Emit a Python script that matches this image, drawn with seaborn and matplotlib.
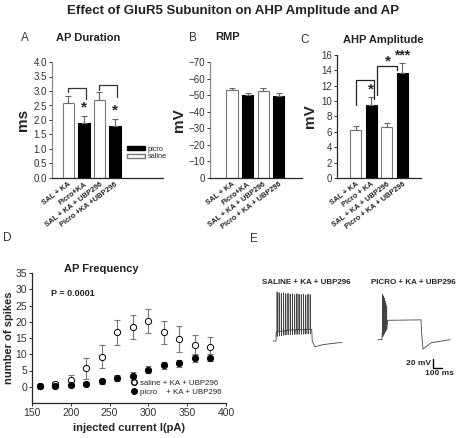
import numpy as np
import matplotlib
matplotlib.use("Agg")
import matplotlib.pyplot as plt
import seaborn as sns
from matplotlib.patches import Patch
from matplotlib.lines import Line2D

# ===========================================
# Data
# ===========================================
groups = ["saline", "picro", "saline", "picro"]

labels_a = ["SAL + KA", "Picro+KA", "SAL + KA + UBP296", "Picro +KA +UBP296"]
ap_duration = [2.6, 1.9, 2.7, 1.8]
ap_duration_err = [0.23, 0.25, 0.25, 0.25]

labels_b = ["SAL + KA", "Picro+KA", "SAL + KA + UBP296", "Picro + KA + UBP296"]
rmp = [-53.0, -50.2, -52.8, -49.7]
rmp_err = [1.6, 1.2, 1.8, 1.3]

labels_c = ["SAL + KA", "Picro + KA", "SAL + KA + UBP296", "Picro + KA + UBP296"]
ahp_amp = [6.2, 9.5, 6.6, 13.6]
ahp_amp_err = [0.6, 1.1, 0.6, 1.3]

currents = [160, 180, 200, 220, 240, 260, 280, 300, 320, 340, 360, 380]
spikes_saline = [0.3, 1.0, 2.0, 5.7, 9.3, 16.8, 18.5, 20.2, 16.8, 14.6, 13.0, 12.3]
spikes_saline_err = [0.3, 0.5, 1.5, 3.3, 3.6, 3.8, 3.7, 3.8, 3.5, 4.0, 3.0, 3.1]
spikes_picro = [0.2, 0.1, 0.4, 1.0, 1.7, 2.8, 3.3, 5.3, 6.6, 7.2, 8.7, 8.9]
spikes_picro_err = [0.4, 0.4, 0.5, 0.5, 0.7, 0.9, 1.2, 1.1, 1.1, 1.1, 1.2, 1.1]

# voltage traces (ms, mV): envelope anchors plus spike times / peaks
saline_env_t = [144, 178, 180, 300, 575, 580, 611, 700, 911]
saline_env_v = [-60, -60, -40, -36, -34, -60, -73, -68, -63]
saline_spike_t = [190, 213, 237, 262, 286, 311, 336, 360, 385, 410, 434, 459, 484, 508, 533, 558]
saline_spike_v = [49, 47, 46, 47, 45, 46, 44, 45, 43, 45, 44, 43, 44, 42, 44, 43]

picro_env_t = [1311, 1355, 1357, 1410, 1420, 1789, 1795, 1811, 1900, 2111]
picro_env_v = [-57, -57, -42, -22, -14, -13, -40, -78, -64, -57]
picro_spike_t = [1362, 1371, 1380, 1389, 1398, 1407]
picro_spike_v = [44, 40, 35, 29, 23, 16]

# ===========================================
# Figure setup
# ===========================================
sns.set_style("ticks")
plt.rcParams["font.family"] = ["Liberation Sans", "DejaVu Sans"]
plt.rcParams["axes.linewidth"] = 0.9

W, H = 461, 438
fig = plt.figure(figsize=(W / 100, H / 100), dpi=100)


def px_axes(left, top, right, bottom):
    return fig.add_axes([left / W, 1 - bottom / H, (right - left) / W, (bottom - top) / H])


def bar_panel(ax, labels, vals, errs, edge="#777777"):
    sns.barplot(x=labels, y=vals, hue=groups, palette={"saline": "white", "picro": "black"},
                dodge=False, width=0.72, legend=False, ax=ax, zorder=2)
    for p in ax.patches:
        fc = p.get_facecolor()
        p.set_edgecolor("black" if fc[0] < 0.5 else edge)
        p.set_linewidth(0.8)
    lower = [e if v < 0 else 0 for v, e in zip(vals, errs)]
    upper = [0 if v < 0 else e for v, e in zip(vals, errs)]
    ax.errorbar(range(4), vals, yerr=[lower, upper], fmt="none", ecolor="#666666",
                elinewidth=0.8, capsize=2.5, capthick=0.8, zorder=3)
    ax.set_xticks(range(4))
    ax.set_xticklabels(labels, rotation=37, ha="right", rotation_mode="anchor",
                       fontsize=5.3, fontweight="bold", color="#222222")
    ax.tick_params(axis="x", length=0, pad=2)
    ax.tick_params(axis="y", labelsize=7, length=2.5, width=0.7, colors="#333333", pad=1)
    ax.set_xlabel("")
    sns.despine(ax=ax)


def bracket(ax, x0, x1, y_top, y0, y1, color="#333333"):
    ax.plot([x0, x0, x1, x1], [y0, y_top, y_top, y1], color=color, lw=0.9, zorder=4)


# ---- Panel A: AP duration ----
ax_a = px_axes(52, 62, 163, 178)
bar_panel(ax_a, labels_a, ap_duration, ap_duration_err)
ax_a.set_xlim(-1.06, 6.1)
ax_a.set_ylim(0, 4.0)
ax_a.set_yticks(np.arange(0, 4.01, 0.5))
ax_a.set_yticklabels([f"{v:.1f}" for v in np.arange(0, 4.01, 0.5)])
ax_a.spines["left"].set_color("#888888")
ax_a.set_ylabel("ms", fontsize=11, fontweight="bold", labelpad=3)
bracket(ax_a, 0, 1.15, 3.1, 2.95, 2.74)
bracket(ax_a, 1.95, 3.15, 3.2, 3.05, 2.8)
ax_a.text(1, 2.2, "*", ha="center", va="bottom", fontsize=11, fontweight="bold")
ax_a.text(3, 2.1, "*", ha="center", va="bottom", fontsize=11, fontweight="bold")
ax_a.legend(handles=[Patch(facecolor="black", edgecolor="black", label="picro"),
                     Patch(facecolor="white", edgecolor="#777777", label="saline")],
            loc="upper left", bbox_to_anchor=(4.6 / 7.16, 0.31), frameon=False,
            fontsize=5.3, handlelength=2.4, handleheight=0.6, handletextpad=0.4,
            labelspacing=0.1, borderpad=0)

# ---- Panel B: RMP ----
ax_b = px_axes(210, 62, 302, 178)
bar_panel(ax_b, labels_b, rmp, rmp_err)
ax_b.set_xlim(-1.42, 4.5)
ax_b.set_ylim(0, -70)
ax_b.set_yticks(np.arange(0, -71, -10))
ax_b.set_yticklabels(["0"] + [f"\u2212{abs(v)}" for v in range(10, 71, 10)])
ax_b.spines["left"].set_color("#888888")
ax_b.set_ylabel("mV", fontsize=11, fontweight="bold", labelpad=2)

# ---- Panel C: AHP amplitude ----
ax_c = px_axes(337, 55, 421, 178)
bar_panel(ax_c, labels_c, ahp_amp, ahp_amp_err)
ax_c.set_xlim(-1.2, 4.2)
ax_c.set_ylim(0, 16)
ax_c.set_yticks(range(0, 17, 2))
ax_c.set_ylabel("mV", fontsize=11, fontweight="bold", labelpad=3)
bracket(ax_c, 0, 1.2, 12.8, 9.5, 10.3, color="#222222")
bracket(ax_c, 1.35, 2.65, 14.6, 10.8, 14.1, color="#222222")
ax_c.text(1, 10.6, "*", ha="center", va="bottom", fontsize=11, fontweight="bold")
ax_c.text(2.05, 14.3, "*", ha="center", va="bottom", fontsize=11, fontweight="bold")
ax_c.text(3.0, 15.0, "***", ha="center", va="bottom", fontsize=10, fontweight="bold")

# ---- Panel D: AP frequency ----
ax_d = px_axes(32, 273, 226, 403)
ax_d.errorbar(currents, spikes_saline, yerr=spikes_saline_err, fmt="none",
              ecolor="#777777", elinewidth=0.8, capsize=2, capthick=0.8, zorder=2)
ax_d.errorbar(currents, spikes_picro, yerr=spikes_picro_err, fmt="none",
              ecolor="#777777", elinewidth=0.8, capsize=2, capthick=0.8, zorder=2)
sns.scatterplot(x=currents, y=spikes_saline, ax=ax_d, color="white", edgecolor="black",
                s=20, linewidth=0.7, zorder=3)
sns.scatterplot(x=currents, y=spikes_picro, ax=ax_d, color="black", edgecolor="black",
                s=20, linewidth=0.7, zorder=3)
ax_d.set_xlim(150, 400)
ax_d.set_ylim(-5, 35)
ax_d.set_xticks(range(150, 401, 50))
ax_d.set_yticks(range(0, 36, 5))
ax_d.tick_params(labelsize=7.5, length=2.5, width=0.7, colors="#333333", pad=1)
ax_d.set_xlabel("injected current I(pA)", fontsize=8, fontweight="bold", labelpad=4)
ax_d.set_ylabel("number of spikes", fontsize=8, fontweight="bold", labelpad=1)
sns.despine(ax=ax_d)
ax_d.legend(handles=[Line2D([], [], marker="o", ls="none", mfc="white", mec="black", ms=4,
                            label="saline + KA + UBP296"),
                     Line2D([], [], marker="o", ls="none", mfc="black", mec="black", ms=4,
                            label="picro    + KA + UBP296")],
            loc="lower right", bbox_to_anchor=(1.0, 0.02), frameon=False, fontsize=5.7,
            handlelength=0.8, handletextpad=0.3, labelspacing=0.15, borderpad=0.1)
ax_d.text(0.1, 0.84, "P = 0.0001", transform=ax_d.transAxes, fontsize=6.5,
          fontweight="bold", va="center")

# ---- Panel E: voltage traces ----
ax_e = px_axes(260, 285, 458, 380)
ax_e.axis("off")
ms_per_px = 100 / 9
mv_per_px = 20 / 9
ax_e.set_xlim(0, 198 * ms_per_px)
ax_e.set_ylim(-60 - 39 * mv_per_px, -60 + 56 * mv_per_px)


def build_trace(env_t, env_v, spike_t, spike_v):
    pts_t = list(env_t)
    pts_v = list(env_v)
    for ts, pk in zip(spike_t, spike_v):
        base = np.interp(ts, env_t, env_v)
        pts_t += [ts - 1.0, ts, ts + 2.0, ts + 3.5]
        pts_v += [base, pk, base - 10, base]
    order = np.argsort(pts_t)
    return np.array(pts_t)[order], np.array(pts_v)[order]


for env_t, env_v, sp_t, sp_v in [(saline_env_t, saline_env_v, saline_spike_t, saline_spike_v),
                                 (picro_env_t, picro_env_v, picro_spike_t, picro_spike_v)]:
    tt, vv = build_trace(env_t, env_v, sp_t, sp_v)
    ax_e.plot(tt, vv, color="#444444", lw=0.6)

# scale bar 20 mV / 100 ms
sb_t, sb_v = 1921, -120
ax_e.plot([sb_t, sb_t, sb_t + 100], [sb_v + 20, sb_v, sb_v], color="black", lw=1.0)
ax_e.text(sb_t - 25, sb_v + 10, "20 mV", ha="right", va="center", fontsize=6, fontweight="bold")
ax_e.text(sb_t + 70, sb_v - 13, "100 ms", ha="center", va="center", fontsize=6, fontweight="bold")

# ===========================================
# Titles and panel letters
# ===========================================
fig.text(233 / W, 1 - 11 / H, "Effect of GluR5 Subuniton on AHP Amplitude and AP",
         ha="center", va="center", fontsize=9.5, fontweight="bold", color="#222222")
for letter, x, y in [("A", 25, 38), ("B", 193, 38), ("C", 305, 40), ("D", 7, 238), ("E", 254, 239)]:
    fig.text(x / W, 1 - y / H, letter, ha="center", va="center", fontsize=8.5, color="#333333")
for title, x, y in [("AP Duration", 88, 38), ("RMP", 228, 37), ("AHP Amplitude", 383, 40),
                    ("AP Frequency", 101, 269)]:
    fig.text(x / W, 1 - y / H, title, ha="center", va="center", fontsize=8, fontweight="bold",
             color="#222222")
fig.text(306 / W, 1 - 282 / H, "SALINE + KA + UBP296", ha="center", va="center",
         fontsize=5.8, fontweight="bold")
fig.text(413 / W, 1 - 282 / H, "PICRO + KA + UBP296", ha="center", va="center",
         fontsize=5.8, fontweight="bold")

fig.savefig("out.png", dpi=100)
